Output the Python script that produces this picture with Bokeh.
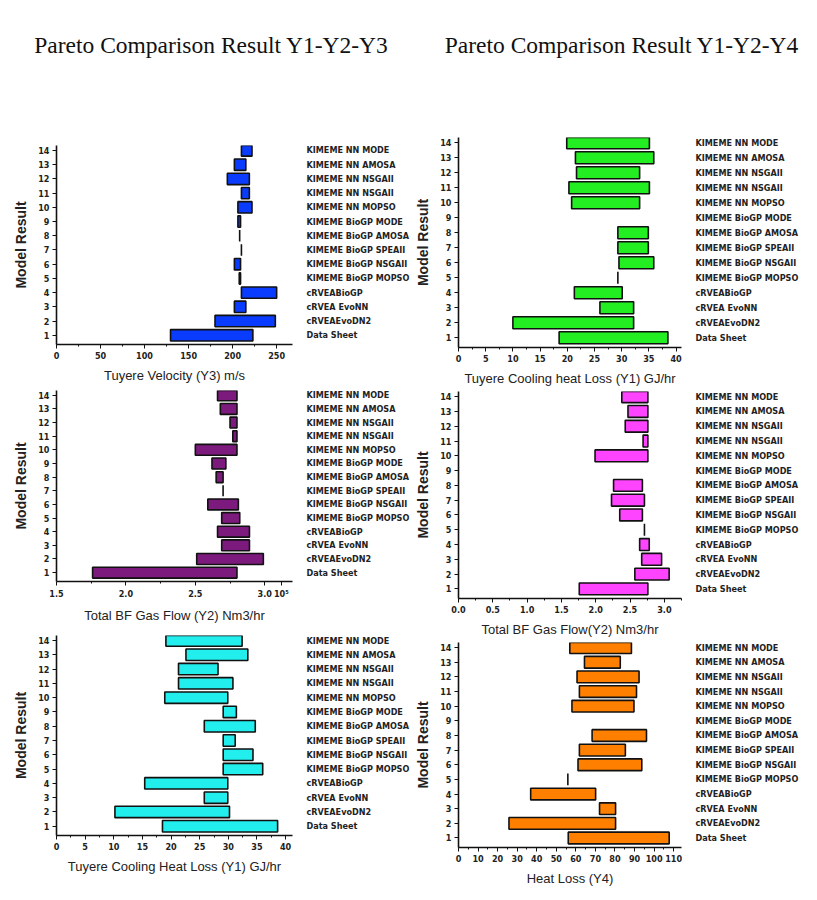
import numpy as np
from bokeh.plotting import figure
from bokeh.models import (ColumnDataSource, LinearAxis, FixedTicker, SingleIntervalTicker,
                          Range1d, Div, NumeralTickFormatter)
from bokeh.layouts import column, row
from bokeh.embed import file_html
from bokeh.resources import INLINE

# ---------------- data ----------------
positions = list(range(1, 15))
models = ["Data Sheet", "cRVEAEvoDN2", "cRVEA EvoNN", "cRVEABioGP",
          "KIMEME BioGP MOPSO", "KIMEME BioGP NSGAII", "KIMEME BioGP SPEAII",
          "KIMEME BioGP AMOSA", "KIMEME BioGP MODE", "KIMEME NN MOPSO",
          "KIMEME NN NSGAII", "KIMEME NN NSGAII", "KIMEME NN AMOSA", "KIMEME NN MODE"]

# Left column: Pareto comparison Y1-Y2-Y3
y3_low = [129.5, 180, 202, 210, 207.5, 202, 210, 208, 206, 206, 210, 194, 202, 210]
y3_high = [223, 248.5, 215, 250, 209, 209, 210, 208, 209, 222, 219, 219, 215, 222]

y2a_low = [1.76, 2.51, 2.69, 2.66, 2.69, 2.59, 2.70, 2.65, 2.62, 2.50, 2.77, 2.75, 2.68, 2.66]
y2a_high = [2.80, 2.99, 2.89, 2.89, 2.82, 2.81, 2.70, 2.70, 2.72, 2.80, 2.80, 2.80, 2.80, 2.80]

y1a_low = [18.5, 10.2, 25.8, 15.4, 29.1, 29.1, 29.1, 25.8, 29.1, 18.9, 21.3, 21.3, 22.6, 19.1]
y1a_high = [38.6, 30.2, 29.9, 29.9, 36.0, 34.3, 31.2, 34.7, 31.4, 29.9, 30.8, 28.2, 33.4, 32.4]

# Right column: Pareto comparison Y1-Y2-Y4 (no result for KIMEME BioGP MODE)
y1b_low = [18.5, 10.0, 26.0, 21.3, 29.3, 29.5, 29.3, 29.3, np.nan, 20.8, 20.3, 21.7, 21.5, 19.9]
y1b_high = [38.5, 32.2, 32.2, 30.1, 29.3, 35.9, 34.9, 34.9, np.nan, 33.3, 35.1, 33.3, 35.9, 35.1]

y2b_low = [1.76, 2.57, 2.67, 2.64, 2.71, 2.35, 2.23, 2.26, np.nan, 1.99, 2.69, 2.43, 2.47, 2.38]
y2b_high = [2.76, 3.07, 2.96, 2.78, 2.71, 2.68, 2.71, 2.68, np.nan, 2.76, 2.76, 2.76, 2.76, 2.76]

y4_low = [56.1, 25.8, 72.1, 36.9, 55.9, 61.1, 61.8, 68.3, np.nan, 58.0, 61.8, 60.6, 64.4, 56.9]
y4_high = [107.7, 80.3, 80.3, 70.1, 55.9, 93.7, 85.3, 96.1, np.nan, 89.7, 91.0, 92.3, 82.7, 88.4]

# x ticks of the Y2 (x10^5) panel on the left, with the exponent note at the end
y2a_ticks = [1.5, 2.0, 2.5, 3.0]
y2a_exp_pos = 3.12
y2a_exp_text = "10⁵"

TICK_FONT = "Liberation Sans Narrow, DejaVu Sans Condensed, Liberation Sans"
LAB_FONT = "Liberation Sans"


def panel(low, high, color, xr, major, minor_n, xlabel, width, height,
          bt, bb, bl, br, fmt=None):
    src = ColumnDataSource(dict(y=positions,
                                left=np.array(low, dtype=float),
                                right=np.array(high, dtype=float)))
    p = figure(width=width, height=height, output_backend="svg", toolbar_location=None,
               x_range=Range1d(*xr), y_range=Range1d(0.35, 14.35),
               min_border_top=bt, min_border_bottom=bb, min_border_left=bl,
               min_border_right=br)
    p.outline_line_color = None
    p.grid.visible = False
    p.hbar(y="y", left="left", right="right", height=0.8, source=src,
           fill_color=color, line_color="#111111", line_width=1.6)

    xa = p.xaxis[0]
    xa.ticker = SingleIntervalTicker(interval=major, num_minor_ticks=minor_n)
    if fmt:
        xa.formatter = NumeralTickFormatter(format=fmt)
    xa.axis_label = xlabel
    ya = p.yaxis[0]
    ya.ticker = FixedTicker(ticks=positions)
    ya.axis_label = "Model Result"
    for ax in (xa, ya):
        ax.axis_line_color = "#111111"
        ax.axis_line_width = 1.6
        ax.major_tick_line_color = "#111111"
        ax.minor_tick_line_color = "#111111"
        ax.major_tick_in = 0
        ax.major_tick_out = 4
        ax.minor_tick_in = 0
        ax.minor_tick_out = 2
        ax.major_label_text_font = TICK_FONT
        ax.major_label_text_font_style = "bold"
        ax.major_label_text_font_size = "9px"
        ax.major_label_text_color = "#222222"
        ax.axis_label_text_font = LAB_FONT
        ax.axis_label_text_color = "#222222"
        ax.major_label_standoff = 3
    ya.minor_tick_line_color = None
    xa.axis_label_text_font_style = "normal"
    xa.axis_label_text_font_size = "13px"
    xa.axis_label_standoff = 6
    ya.axis_label_text_font_style = "bold"
    ya.axis_label_text_font_size = "14px"
    ya.axis_label_standoff = 6

    ra = LinearAxis(ticker=FixedTicker(ticks=positions),
                    major_label_overrides={i: models[i - 1] for i in positions})
    ra.axis_line_color = None
    ra.major_tick_line_color = None
    ra.minor_tick_line_color = None
    ra.major_label_text_font = TICK_FONT
    ra.major_label_text_font_style = "bold"
    ra.major_label_text_font_size = "9px"
    ra.major_label_text_color = "#222222"
    ra.major_label_standoff = 8
    p.add_layout(ra, "right")
    return p


LW, RW = 412, 389

l1 = panel(y3_low, y3_high, "#0a3cff", (0, 268), 50, 2, "Tuyere Velocity (Y3) m/s",
           LW, 315, 75, 40, 56, 110)
l2 = panel(y2a_low, y2a_high, "#7d1a7d", (1.5, 3.2), 0.5, 2, "Total BF Gas Flow (Y2) Nm3/hr",
           LW, 240, 5, 40, 56, 110, fmt="0.0")
l2.xaxis[0].ticker = FixedTicker(ticks=y2a_ticks + [y2a_exp_pos],
                                 minor_ticks=[1.75, 2.25, 2.75])
l2.xaxis[0].major_label_overrides = {y2a_exp_pos: y2a_exp_text}
l3 = panel(y1a_low, y1a_high, "#22eeee", (0, 41.2), 5, 2, "Tuyere Cooling Heat Loss (Y1) GJ/hr",
           LW, 269, 10, 59, 56, 110)

r1 = panel(y1b_low, y1b_high, "#22ee22", (0, 41), 5, 2, "Tuyere Cooling heat Loss (Y1) GJ/hr",
           RW, 318, 67, 40, 44, 110)
r2 = panel(y2b_low, y2b_high, "#ff44ff", (0, 3.25), 0.5, 2, "Total BF Gas Flow(Y2) Nm3/hr",
           RW, 251, 3, 40, 44, 110, fmt="0.0")
r3 = panel(y4_low, y4_high, "#ff8000", (0, 114), 10, 2, "Heat Loss (Y4)",
           RW, 255, 3, 47, 44, 110)


def title_div(text, w):
    return Div(text=('<div style="width:%dpx;padding-top:24px;text-align:center;'
                     'font-family:\'Liberation Serif\',serif;font-size:23.5px;color:#111;">%s</div>'
                     % (w, text)), width=w, height=60)


layout = column(
    row(title_div("Pareto Comparison Result Y1-Y2-Y3", LW),
        title_div("Pareto Comparison Result Y1-Y2-Y4", RW)),
    row(column(l1, l2, l3), column(r1, r2, r3)),
)

open("out.html", "w").write(file_html(layout, INLINE))
